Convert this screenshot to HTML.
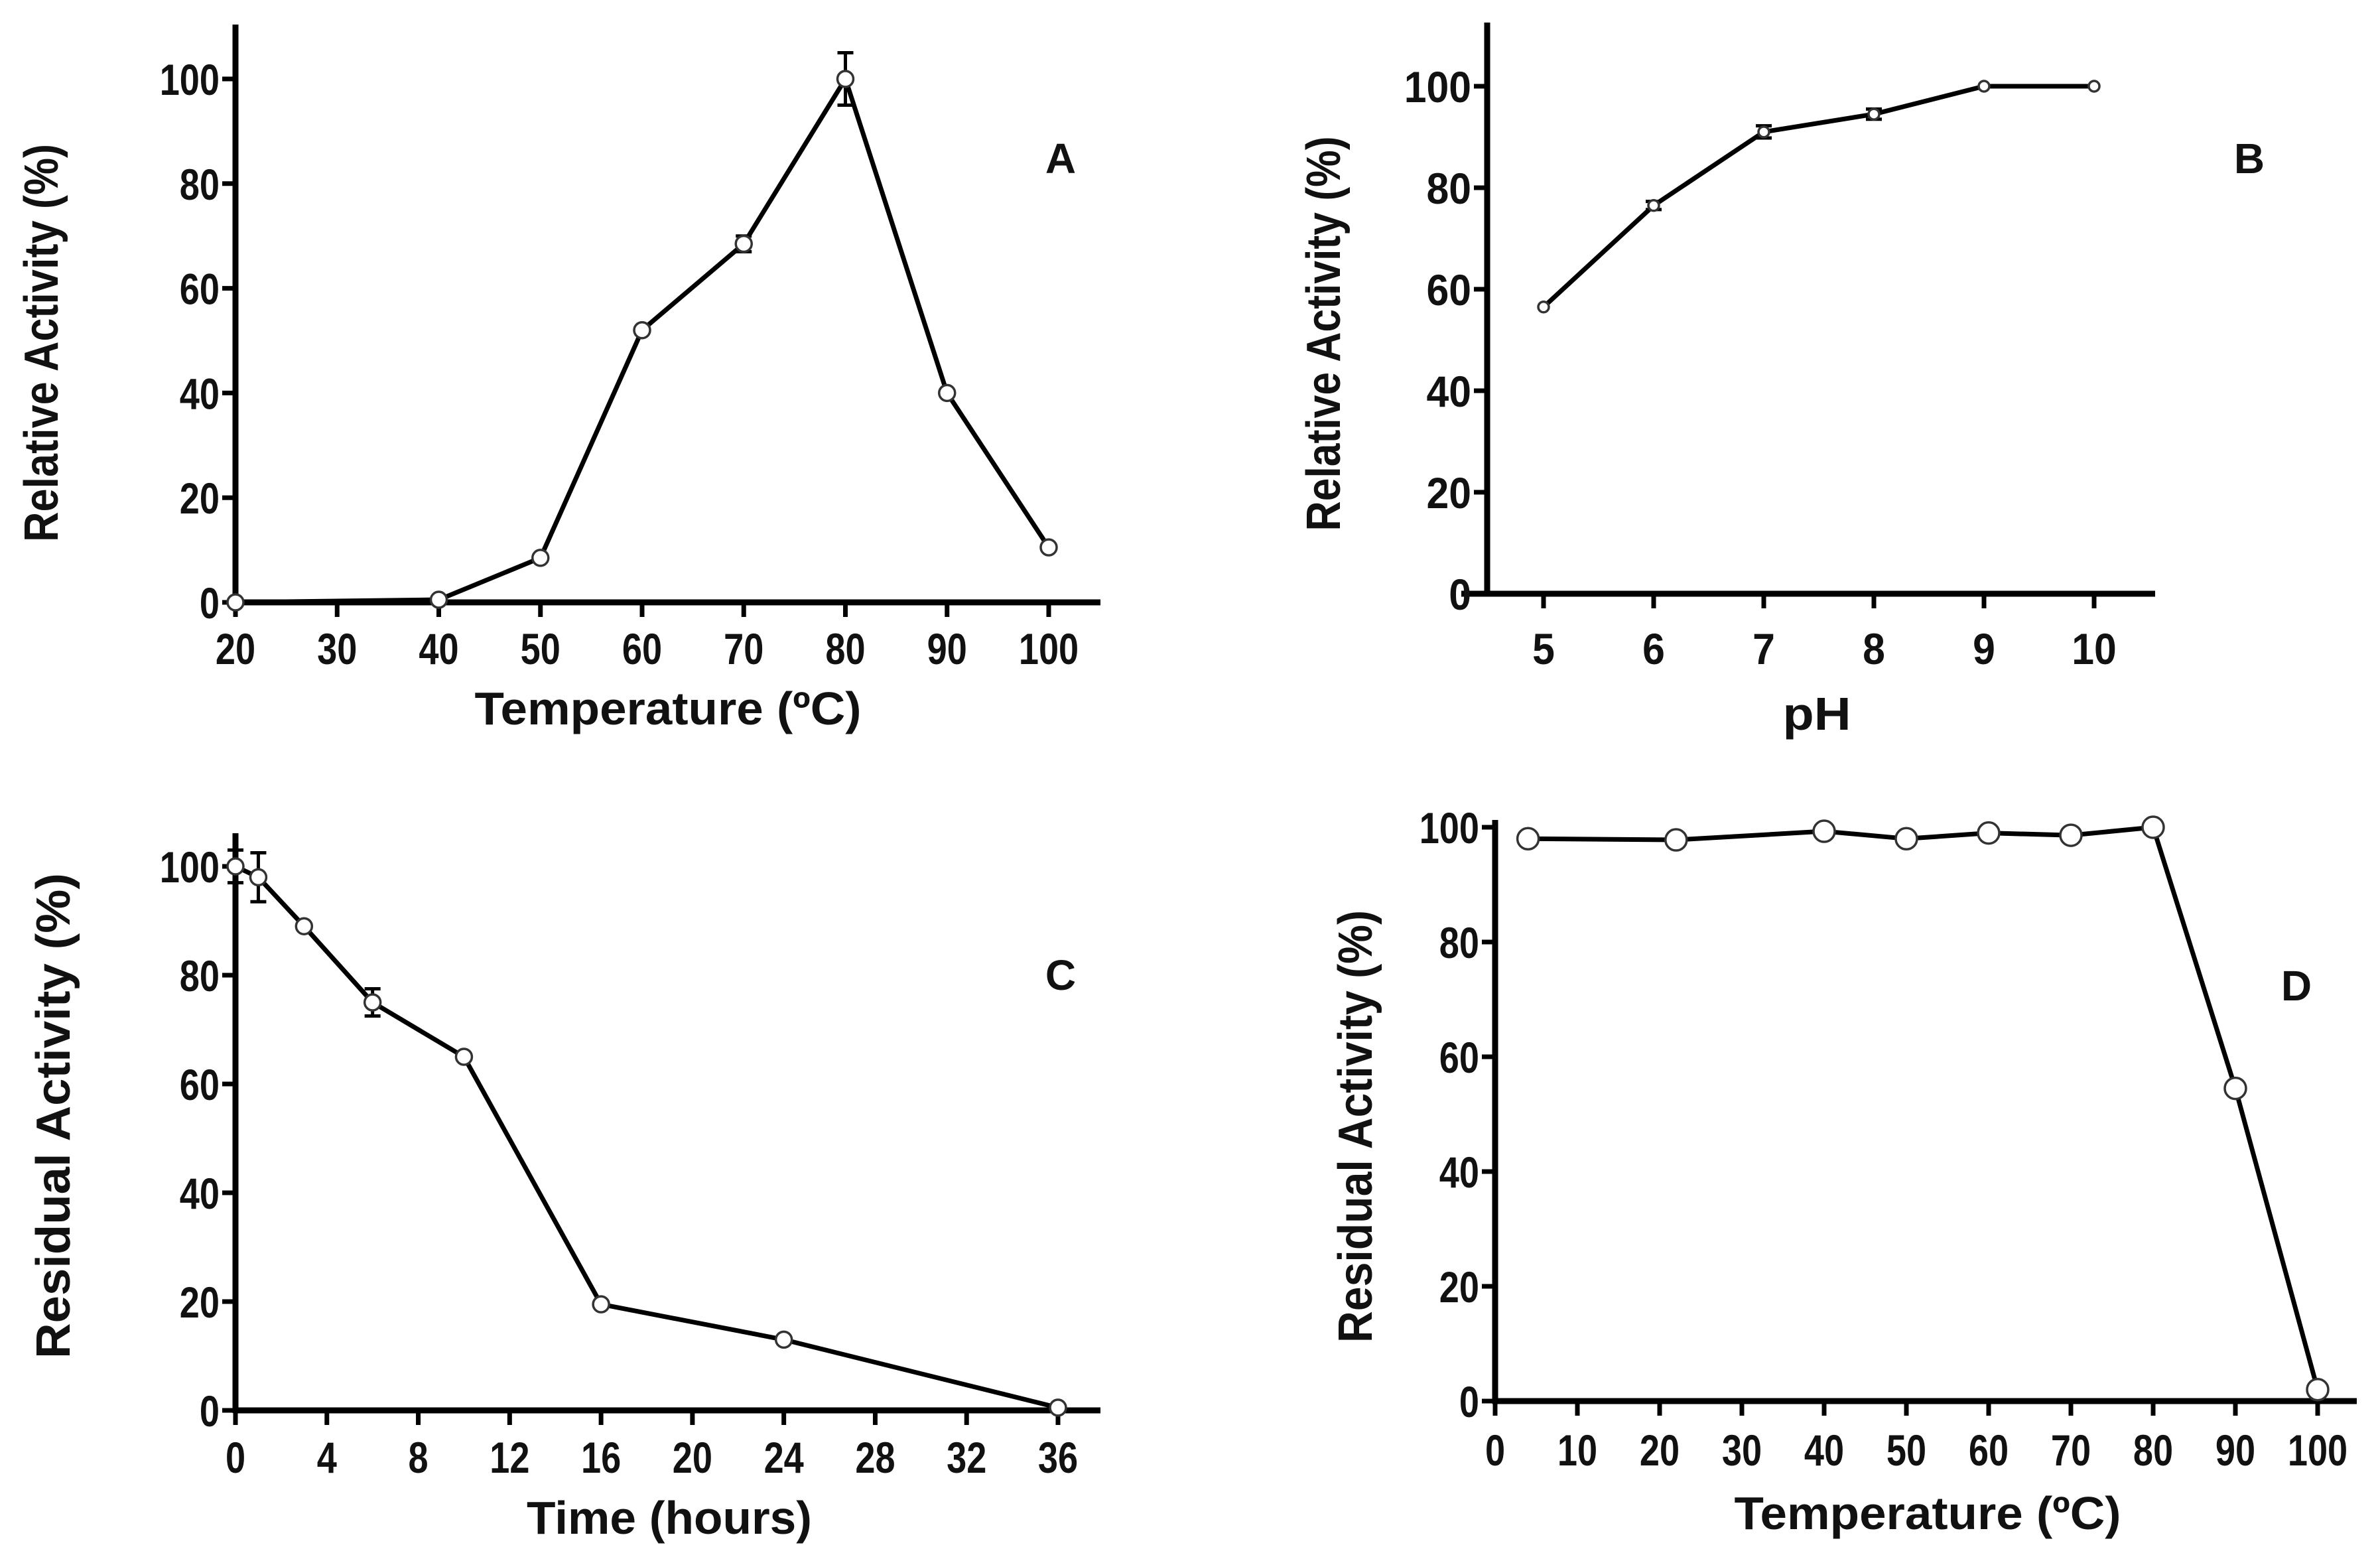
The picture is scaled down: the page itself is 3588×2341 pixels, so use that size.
<!DOCTYPE html>
<html><head><meta charset="utf-8"><style>
html,body{margin:0;padding:0;background:#fff;overflow:hidden;}
svg{display:block;}
text{font-family:"Liberation Sans",sans-serif;font-weight:bold;fill:#111;}
</style></head><body>
<svg id="fig" width="3588" height="2341" viewBox="0 0 3588 2341" xmlns="http://www.w3.org/2000/svg"></svg>
<script>
// Panel A data
const aX = [20, 40, 50, 60, 70, 80, 90, 100];
const aY = [0, 0.5, 8.5, 52, 68.5, 100, 40, 10.5];
const aErr = [0, 0, 0, 0, 1.5, 5, 0, 0];
const aXTicks = [20, 30, 40, 50, 60, 70, 80, 90, 100];
const aYTicks = [0, 20, 40, 60, 80, 100];
// Panel B data
const bX = [5, 6, 7, 8, 9, 10];
const bY = [56.5, 76.5, 91, 94.5, 100, 100];
const bErr = [0, 0.8, 1.2, 1, 0, 0];
const bXTicks = [5, 6, 7, 8, 9, 10];
const bYTicks = [0, 20, 40, 60, 80, 100];
// Panel C data
const cX = [0, 1, 3, 6, 10, 16, 24, 36];
const cY = [100, 98, 89, 75, 65, 19.5, 13, 0.5];
const cErr = [3, 4.5, 0, 2.5, 0, 0, 0, 0];
const cXTicks = [0, 4, 8, 12, 16, 20, 24, 28, 32, 36];
const cYTicks = [0, 20, 40, 60, 80, 100];
// Panel D data
const dX = [4, 22, 40, 50, 60, 70, 80, 90, 100];
const dY = [98, 97.8, 99.3, 98, 99, 98.6, 100, 54.5, 2];
const dErr = [0, 0, 0, 0, 0, 0, 0, 0, 0];
const dXTicks = [0, 10, 20, 30, 40, 50, 60, 70, 80, 90, 100];
const dYTicks = [0, 20, 40, 60, 80, 100];

const NS = "http://www.w3.org/2000/svg";
const svg = document.getElementById('fig');
function mk(tag, attrs, parent) {
  const e = document.createElementNS(NS, tag);
  for (const k in attrs) e.setAttribute(k, attrs[k]);
  (parent || svg).appendChild(e);
  return e;
}

function panel(cfg) {
  const g = mk('g', {});
  
  
  const sx = v => cfg.x0px + (v - cfg.x0) / (cfg.x1 - cfg.x0) * (cfg.x1px - cfg.x0px);
  const sy = v => cfg.axY - v / 100 * (cfg.axY - cfg.y100px);
  const ya = mk('line', {x1: cfg.axX, y1: cfg.axTop, x2: cfg.axX, y2: cfg.axY + 4, stroke: '#000', 'stroke-width': 9}, g);
  
  
  const xa = mk('line', {x1: cfg.axLeft, y1: cfg.axY, x2: cfg.axRight, y2: cfg.axY, stroke: '#000', 'stroke-width': 9}, g);
  
  
  cfg.xt.forEach(t => {
    const x = sx(t);
    const tk = mk('line', {x1: x, y1: cfg.axY, x2: x, y2: cfg.axY + 22, stroke: '#000', 'stroke-width': 7}, g);
    
    
    const lb = mk('text', {'text-anchor': 'middle', 'font-size': 66, transform: `translate(${x},${cfg.xLabY + 4}) scale(${cfg.lscale},1)`}, g);
    lb.textContent = t;
    
    
  });
  cfg.yt.forEach(t => {
    const y = sy(t);
    const tk = mk('line', {x1: cfg.axX - 20, y1: y, x2: cfg.axX, y2: y, stroke: '#000', 'stroke-width': 7}, g);
    
    
    const lb = mk('text', {'text-anchor': 'end', 'font-size': 66, transform: `translate(${cfg.axX - 24},${y + 24}) scale(${cfg.lscale},1)`}, g);
    lb.textContent = t;
    
    
  });
  const pts = cfg.xs.map((v, i) => sx(v) + ',' + sy(cfg.ys[i])).join(' ');
  const pl = mk('polyline', {points: pts, fill: 'none', stroke: '#000', 'stroke-width': 7, 'stroke-linejoin': 'round'}, g);
  
  
  cfg.xs.forEach((v, i) => {
    const x = sx(v), y = sy(cfg.ys[i]);
    if (cfg.err[i] > 0) {
      const e1 = sy(cfg.ys[i] + cfg.err[i]), e2 = sy(cfg.ys[i] - cfg.err[i]);
      const eb = mk('path', {d: `M${x},${e1}V${e2}M${x-12},${e1}H${x+12}M${x-12},${e2}H${x+12}`, stroke: '#000', 'stroke-width': 5, fill: 'none'}, g);
      
      
    }
    const c = mk('circle', {cx: x, cy: y, r: cfg.r, fill: '#fff', stroke: '#333', 'stroke-width': 3.5}, g);
    
    
  });
  const xt = mk('text', {x: cfg.xtX, y: cfg.xtY, 'text-anchor': 'middle', 'font-size': 70, textLength: cfg.xtLen, lengthAdjust: 'spacingAndGlyphs'}, g);
  xt.textContent = cfg.xTitle;
  
  
  const yt = mk('text', {x: 0, y: 0, 'text-anchor': 'middle', 'font-size': 72, textLength: cfg.ytLen, lengthAdjust: 'spacingAndGlyphs', transform: `translate(${cfg.ytX + 3},${cfg.ytY}) rotate(-90)`}, g);
  yt.textContent = cfg.yTitle;
  
  
  const pl2 = mk('text', {x: cfg.letX, y: cfg.letY + 3, 'text-anchor': 'middle', 'font-size': 64}, g);
  pl2.textContent = cfg.letter;
  
  
}

panel({name: 'panel-a', xs: aX, ys: aY, err: aErr, xt: aXTicks, yt: aYTicks,
  x0: 20, x1: 100, x0px: 355, x1px: 1581, y100px: 119,
  axX: 355, axY: 908, axTop: 37, axLeft: 352, axRight: 1659, xLabY: 997, lscale: 0.82, r: 12,
  xTitle: 'Temperature (ºC)', xtX: 1007, xtY: 1092, xtLen: 583,
  yTitle: 'Relative Activity (%)', ytX: 84, ytY: 517, ytLen: 600, letter: 'A', letX: 1599, letY: 258});
panel({name: 'panel-b', xs: bX, ys: bY, err: bErr, xt: bXTicks, yt: bYTicks,
  x0: 5, x1: 10, x0px: 2327, x1px: 3157, y100px: 130,
  axX: 2242, axY: 895, axTop: 34, axLeft: 2203, axRight: 3249, xLabY: 997, lscale: 0.92, r: 8,
  xTitle: 'pH', xtX: 2739, xtY: 1100, xtLen: 103,
  yTitle: 'Relative Activity (%)', ytX: 2017, ytY: 503, ytLen: 595, letter: 'B', letX: 3391, letY: 258});
panel({name: 'panel-c', xs: cX, ys: cY, err: cErr, xt: cXTicks, yt: cYTicks,
  x0: 0, x1: 36, x0px: 355, x1px: 1595, y100px: 1306,
  axX: 355, axY: 2126, axTop: 1256, axLeft: 352, axRight: 1659, xLabY: 2216, lscale: 0.82, r: 12,
  xTitle: 'Time (hours)', xtX: 1009, xtY: 2312, xtLen: 430,
  yTitle: 'Residual Activity (%)', ytX: 102, ytY: 1682, ytLen: 732, letter: 'C', letX: 1599, letY: 1489});
panel({name: 'panel-d', xs: dX, ys: dY, err: dErr, xt: dXTicks, yt: dYTicks,
  x0: 0, x1: 100, x0px: 2254, x1px: 3494, y100px: 1247,
  axX: 2254, axY: 2112, axTop: 1236, axLeft: 2250, axRight: 3553, xLabY: 2205, lscale: 0.82, r: 16,
  xTitle: 'Temperature (ºC)', xtX: 2906, xtY: 2305, xtLen: 583,
  yTitle: 'Residual Activity (%)', ytX: 2065, ytY: 1698, ytLen: 652, letter: 'D', letX: 3462, letY: 1505});
</script>
</body></html>
